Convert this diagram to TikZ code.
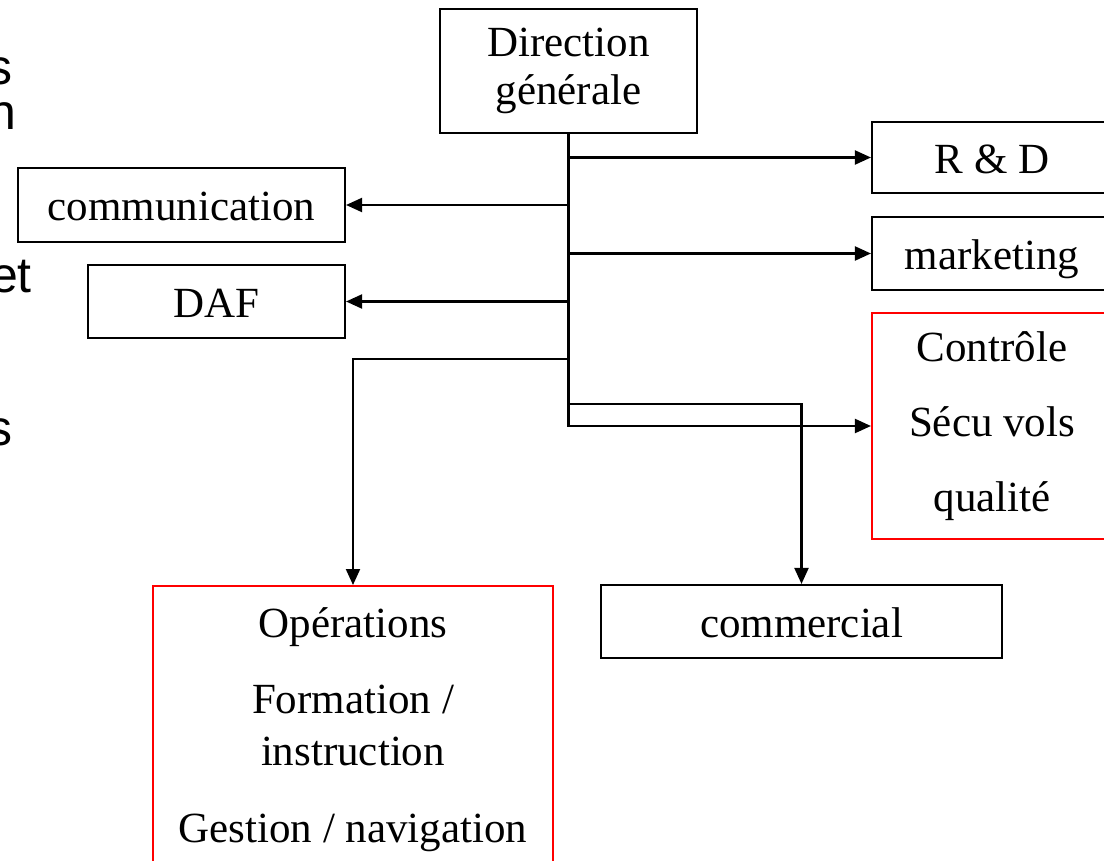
\documentclass[tikz,border=0pt]{standalone}
\usepackage{fontspec}
\setmainfont{Liberation Serif}
\newfontfamily\sansf{Liberation Sans}
\usetikzlibrary{arrows.meta,calc}
\begin{document}
\begin{tikzpicture}[x=1pt,y=1pt,
  box/.style={draw=black,line width=2.1pt,inner sep=0pt,align=center,font=\fontsize{43}{48}\selectfont},
  redbox/.style={box,draw=red},
  one/.style={text height=38pt,text depth=6pt},
  arr/.style={line width=2.1pt,-{Triangle[length=16pt,width=14pt]}},
  frag/.style={font=\sansf\fontsize{50}{50}\selectfont,anchor=base east,inner sep=0pt}
]
\useasboundingbox (0,0) rectangle (1104,-861);
\clip (0,0) rectangle (1104,-861);
\fill[white] (0,0) rectangle (1104,-861);

% fragments of text at the left edge
\node[frag] (f1) at (13,-85) {s};
\node[frag] (f2) at (17,-130) {n};
\node[frag] (f3) at (32,-293) {et};
\node[frag] (f4) at (13,-445) {s};

% boxes
\node[box,minimum width=257pt,minimum height=124pt] (dg) at (568.5,-71) {Direction\\générale};
\node[box,one,minimum width=240pt,minimum height=71pt] (rd) at (992,-157.5) {R \& D};
\node[box,one,minimum width=240pt,minimum height=73pt] (mk) at (992,-253.5) {marketing};
\node[box,one,minimum width=327pt,minimum height=74pt] (com) at (181.5,-205) {communication};
\node[box,one,minimum width=257pt,minimum height=73pt] (daf) at (216.5,-301.5) {DAF};
\node[redbox,font=\fontsize{43}{75}\selectfont,minimum width=240pt,minimum height=226pt] (ctrl) at (992,-426) {Contrôle\\Sécu vols\\qualité};
\node[box,one,minimum width=401pt,minimum height=73pt] (comm) at (801.5,-621.5) {commercial};
\node[redbox,font=\fontsize{43}{52}\selectfont,minimum width=400pt,inner ysep=22pt,anchor=north] (ops) at (353,-585) {Opérations\\[24pt]Formation /\\instruction\\[25pt]Gestion / navigation};

% junctions on the trunk
\coordinate (jo) at (568.5,-359);
\coordinate (jc) at (568.5,-404);

% connectors
\draw[arr] (dg.south) |- (ctrl.west);
\draw[arr] (dg.south |- rd.west) -- (rd.west);
\draw[arr] (dg.south |- mk.west) -- (mk.west);
\draw[arr] (dg.south |- com.east) -- (com.east);
\draw[arr] (dg.south |- daf.east) -- (daf.east);
\draw[arr] (jo) -| (ops.north);
\draw[arr] (jc) -| (comm.north);
\end{tikzpicture}
\end{document}
